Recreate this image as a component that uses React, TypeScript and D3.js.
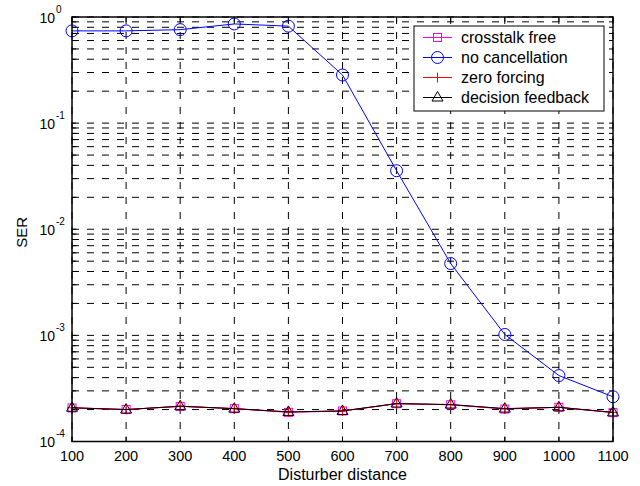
import React from "react";
import * as d3 from "d3";

const distances = [100, 200, 300, 400, 500, 600, 700, 800, 900, 1000, 1100];
const crosstalkFree = [2.07e-4, 2.0e-4, 2.14e-4, 2.04e-4, 1.88e-4, 1.94e-4, 2.27e-4, 2.22e-4, 2.02e-4, 2.1e-4, 1.87e-4];
const noCancellation = [0.74, 0.74, 0.76, 0.86, 0.82, 0.284, 0.0356, 0.00475, 0.00102, 0.000418, 0.000264];
const zeroForcing = [2.08e-4, 2.0e-4, 2.15e-4, 2.04e-4, 1.9e-4, 1.94e-4, 2.27e-4, 2.22e-4, 2.04e-4, 2.1e-4, 1.88e-4];
const decisionFeedback = [2.08e-4, 2.0e-4, 2.15e-4, 2.04e-4, 1.9e-4, 1.94e-4, 2.28e-4, 2.23e-4, 2.04e-4, 2.1e-4, 1.88e-4];
const xTicks = [100, 200, 300, 400, 500, 600, 700, 800, 900, 1000, 1100];
const yDecades = [0, -1, -2, -3, -4];
const legendLabels = ["crosstalk free", "no cancellation", "zero forcing", "decision feedback"];

const W = 640, H = 486;
const L = 72, T = 17, R = 613, B = 441.5;
const FONT = "'Liberation Sans', Arial, Helvetica, sans-serif";

type Marker = "square" | "circle" | "plus" | "triangle";

function MarkerShape({ type, x, y, color }: { type: Marker; x: number; y: number; color: string }) {
  if (type === "square") return <rect x={x - 4} y={y - 4} width={8} height={8} fill="none" stroke={color} strokeWidth={1} />;
  if (type === "circle") return <circle cx={x} cy={y} r={6} fill="none" stroke={color} strokeWidth={1} />;
  if (type === "plus") return <path d={`M${x - 5},${y}H${x + 5}M${x},${y - 5}V${y + 5}`} stroke={color} strokeWidth={1} fill="none" />;
  return <path d={`M${x},${y - 6}L${x + 5.5},${y + 3.5}L${x - 5.5},${y + 3.5}Z`} fill="none" stroke={color} strokeWidth={1} />;
}

export default function App() {
  const x = d3.scaleLinear().domain([100, 1100]).range([L, R]);
  const y = d3.scaleLog().domain([1e-4, 1]).range([B, T]);

  const series: { label: string; values: number[]; color: string; marker: Marker }[] = [
    { label: legendLabels[0], values: crosstalkFree, color: "#ff00ff", marker: "square" },
    { label: legendLabels[1], values: noCancellation, color: "#0000ff", marker: "circle" },
    { label: legendLabels[2], values: zeroForcing, color: "#ff0000", marker: "plus" },
    { label: legendLabels[3], values: decisionFeedback, color: "#000000", marker: "triangle" },
  ];

  const line = d3.line<number>().x((_, i) => x(distances[i])).y((v) => y(v));

  const gridY: number[] = [];
  for (let e = -4; e < 0; e++) {
    for (let m = 1; m <= 9; m++) gridY.push(m * Math.pow(10, e));
  }
  gridY.push(1);

  const dash = "7,8";

  return (
    <svg width={W} height={H} style={{ position: "absolute", left: 0, top: 0, background: "#fff" }}>
      <rect x={0} y={0} width={W} height={H} fill="#fff" />
      <g>
        {gridY.map((v, i) => (
          <line key={"gy" + i} x1={L} x2={R} y1={y(v)} y2={y(v)} stroke="#000" strokeWidth={1} strokeDasharray={dash} />
        ))}
        {xTicks.map((t) => (
          <line key={"gx" + t} x1={x(t)} x2={x(t)} y1={T} y2={B} stroke="#000" strokeWidth={1} strokeDasharray={dash} />
        ))}
      </g>
      <g stroke="#000" strokeWidth={1}>
        {xTicks.map((t) => (
          <g key={"tx" + t}>
            <line x1={x(t)} x2={x(t)} y1={B} y2={B - 5} />
            <line x1={x(t)} x2={x(t)} y1={T} y2={T + 5} />
          </g>
        ))}
        {gridY.map((v, i) => (
          <g key={"ty" + i}>
            <line x1={L} x2={L + 4} y1={y(v)} y2={y(v)} />
            <line x1={R} x2={R - 4} y1={y(v)} y2={y(v)} />
          </g>
        ))}
      </g>
      {series.map((s) => (
        <g key={s.label}>
          <path d={line(s.values) || ""} fill="none" stroke={s.color} strokeWidth={1} />
          {s.values.map((v, i) => (
            <MarkerShape key={i} type={s.marker} x={x(distances[i])} y={y(v)} color={s.color} />
          ))}
        </g>
      ))}
      <rect x={L} y={T} width={R - L} height={B - T} fill="none" stroke="#000" strokeWidth={1.5} />
      <g fontFamily={FONT} fill="#000">
        {xTicks.map((t) => (
          <text key={"lx" + t} x={x(t)} y={461} textAnchor="middle" fontSize={14.5}>{t}</text>
        ))}
        {yDecades.map((e) => (
          <g key={"ly" + e}>
            <text x={55} y={y(Math.pow(10, e)) + 5.5} textAnchor="end" fontSize={14}>10</text>
            <text x={56} y={y(Math.pow(10, e)) - 4.5} textAnchor="start" fontSize={10}>{e}</text>
          </g>
        ))}
        <text x={(L + R) / 2} y={480} textAnchor="middle" fontSize={16}>Disturber distance</text>
        <text transform={`translate(27,${(T + B) / 2 + 3}) rotate(-90)`} textAnchor="middle" fontSize={15}>SER</text>
      </g>
      <g>
        <rect x={414} y={26} width={190} height={85} fill="#fff" stroke="#000" strokeWidth={1} />
        {series.map((s, i) => {
          const ly = 37.5 + i * 20;
          return (
            <g key={"lg" + i}>
              <line x1={423} x2={452} y1={ly} y2={ly} stroke={s.color} strokeWidth={1} />
              <MarkerShape type={s.marker} x={437.5} y={ly} color={s.color} />
              <text x={461} y={ly + 5.5} fontFamily={FONT} fontSize={16} fill="#000">{s.label}</text>
            </g>
          );
        })}
      </g>
    </svg>
  );
}
